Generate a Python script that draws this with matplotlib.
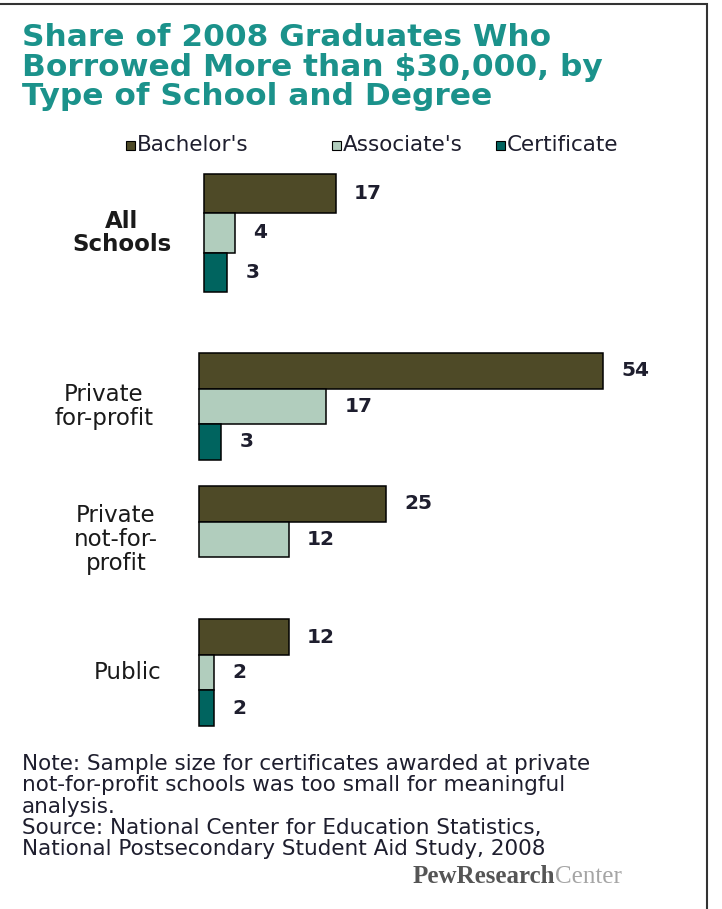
import numpy as np
import matplotlib
matplotlib.use('Agg')
import matplotlib.pyplot as plt
from matplotlib.patches import Rectangle


# share (%) of 2008 graduates borrowing more than $30,000
groups = ['All\nSchools', 'Private\nfor-profit', 'Private\nnot-for-\nprofit', 'Public']
degrees = ["Bachelor's", "Associate's", "Certificate"]
bachelors = [17, 54, 25, 12]
associates = [4, 17, 12, 2]
certificates = [3, 3, np.nan, 2]   # not-for-profit sample too small

title = 'Share of 2008 Graduates Who\nBorrowed More than $30,000, by\nType of School and Degree'
note = ('Note: Sample size for certificates awarded at private\n'
        'not-for-profit schools was too small for meaningful\n'
        'analysis.\n'
        'Source: National Center for Education Statistics,\n'
        'National Postsecondary Student Aid Study, 2008')

colors = ['#4e4a27', '#b1cdbd', '#00645f']
teal = '#1b928b'
ink = '#1e1e2e'

W, H = 722, 909
fig = plt.figure(figsize=(W / 100, H / 100), dpi=100)


def px_box(left, top, right, bottom):
    return [left / W, 1 - bottom / H, (right - left) / W, (bottom - top) / H]


# two panels: "All Schools" on top, the school types below
ax_all = fig.add_axes(px_box(204, 174, 704, 292))
ax_rest = fig.add_axes(px_box(199, 353, 699, 726))
ax_all.set_xlim(0, 500 / 7.75)
ax_rest.set_xlim(0, 500 / 7.48)

series = [bachelors, associates, certificates]
panels = [
    (ax_all, [0], [0.0], 204),
    (ax_rest, [1, 2, 3], [0.0, 3.75, 7.5], 199),
]
label_cx = [122, 104, 116, 128]   # centre of each group label, px

for ax, gidx, offs, left_px in panels:
    for k, vals in enumerate(series):
        ys, xs = [], []
        for g, o in zip(gidx, offs):
            if np.isnan(vals[g]):
                continue
            ys.append(o + k + 0.5)
            xs.append(vals[g])
        bars = ax.barh(ys, xs, height=1.0, color=colors[k], edgecolor='black',
                       linewidth=1.1, label=degrees[k])
        for b in bars:
            b.set_clip_on(False)
        for y, v in zip(ys, xs):
            ax.annotate(f'{v:g}', (v, y), xytext=(13, 0), textcoords='offset points',
                        ha='left', va='center', fontsize=14.5, fontweight='bold', color=ink)
    for g, o in zip(gidx, offs):
        weight = 'bold' if g == 0 else 'normal'
        ax.text((label_cx[g] - left_px) / 500, o + 1.5, groups[g],
                transform=ax.get_yaxis_transform(), ha='center', va='center',
                fontsize=16.5, fontweight=weight, color='#1a1a1a', linespacing=1.05)
    ax.set_ylim(offs[-1] + 3, 0)
    ax.axis('off')

# title
fig.text(22 / W, 1 - 23 / H, title, ha='left', va='top', fontsize=22.5,
         fontweight='bold', color=teal, linespacing=1.03)

# legend row
leg_box_x = [126, 332, 496]
for x, c, name in zip(leg_box_x, colors, degrees):
    fig.add_artist(Rectangle((x / W, 1 - 150 / H), 9 / W, 9 / H,
                             transform=fig.transFigure, facecolor=c,
                             edgecolor='black', linewidth=0.8))
    fig.text((x + 11) / W, 1 - 145 / H, name, ha='left', va='center',
             fontsize=15.5, color=ink)

# note and source
fig.text(22 / W, 1 - 754 / H, note, ha='left', va='top', fontsize=15.5,
         color=ink, linespacing=1.08)

# logo
pew = fig.text(413 / W, 1 - 883 / H, 'PewResearch', ha='left', va='baseline',
               fontsize=18, family='Liberation Serif', fontweight='bold',
               color='#555555')
ax_rest.annotate('Center', xy=(1, 0), xycoords=pew, ha='left', va='bottom',
                 fontsize=18, family='Liberation Serif', color='#a5a5a5',
                 annotation_clip=False)

# frame: top and right edges only
fig.add_artist(Rectangle((-0.02, -0.02), 707 / W + 0.02, (H - 4.5) / H + 0.02,
                         transform=fig.transFigure, fill=False,
                         edgecolor='#333333', linewidth=1.5, clip_on=False))

fig.savefig('out.png', dpi=100, facecolor='white')
